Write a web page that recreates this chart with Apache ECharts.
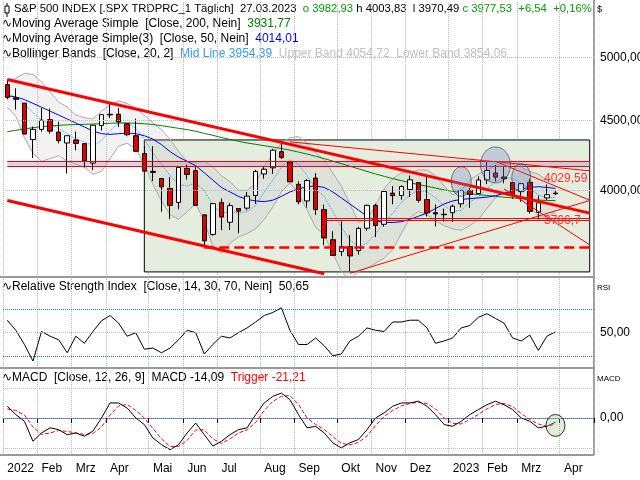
<!DOCTYPE html>
<html><head><meta charset="utf-8">
<script src="https://cdn.jsdelivr.net/npm/echarts@6/dist/echarts.min.js"></script>
<style>html,body{margin:0;padding:0;background:#fff}#c{width:640px;height:480px}</style>
</head><body><div id="c"></div>
<script>
const weeks = ['2022-01-03','2022-01-10','2022-01-18','2022-01-24','2022-01-31','2022-02-07','2022-02-14','2022-02-22','2022-02-28','2022-03-07','2022-03-14','2022-03-21','2022-03-28','2022-04-04','2022-04-11','2022-04-18','2022-04-25','2022-05-02','2022-05-09','2022-05-16','2022-05-23','2022-05-31','2022-06-06','2022-06-13','2022-06-21','2022-06-27','2022-07-05','2022-07-11','2022-07-18','2022-07-25','2022-08-01','2022-08-08','2022-08-15','2022-08-22','2022-08-29','2022-09-06','2022-09-12','2022-09-19','2022-09-26','2022-10-03','2022-10-10','2022-10-17','2022-10-24','2022-10-31','2022-11-07','2022-11-14','2022-11-21','2022-11-28','2022-12-05','2022-12-12','2022-12-19','2022-12-27','2023-01-03','2023-01-09','2023-01-17','2023-01-23','2023-01-30','2023-02-06','2023-02-13','2023-02-21','2023-02-27','2023-03-06','2023-03-13','2023-03-20','2023-03-27','2023-04-03','2023-04-10','2023-04-17','2023-04-24'];
const tickLabels = {0:'2022',4:'Feb',8:'Mrz',12:'Apr',17:'Mai',21:'Jun',25:'Jul',30:'Aug',34:'Sep',39:'Okt',43:'Nov',47:'Dez',52:'2023',56:'Feb',60:'Mrz',65:'Apr'};
const opens  = [4778,4674,4632,4357,4432,4505,4412,4332,4354,4327,4188,4462,4541,4547,4474,4385,4255,4130,4081,4013,3920,4151,4135,3839,3715,3920,3792,3880,3883,3965,4112,4155,4269,4195,4041,3930,4084,3873,3682,3610,3640,3615,3754,3901,3779,3982,3966,4006,4053,3939,3853,3843,3853,3911,3999,3979,4071,4119,4091,4053,3992,4055,3856,3950,3982];
const highs  = [4819,4749,4633,4453,4596,4590,4490,4385,4416,4331,4465,4546,4637,4593,4472,4513,4308,4308,4082,4090,4159,4177,4169,3838,3913,3946,3918,3880,3990,4140,4167,4290,4325,4204,4062,4076,4119,3906,3736,3806,3712,3762,3905,3912,4002,4029,4034,4101,4052,4101,3907,3879,3906,4004,4016,4095,4195,4176,4164,4053,4048,4079,3965,4040,4004];
const lows   = [4662,4582,4395,4223,4415,4401,4329,4115,4279,4157,4138,4424,4517,4450,4381,4267,4130,4063,3859,3811,3876,4074,3901,3637,3705,3741,3743,3722,3868,3911,4079,4113,4218,4057,3907,3886,3838,3647,3584,3583,3492,3591,3738,3698,3764,3908,3938,3957,3919,3828,3765,3796,3794,3887,3885,3975,4043,4061,4048,3944,3925,3847,3809,3936,3970];
const closes = [4677,4662,4398,4432,4501,4419,4349,4385,4329,4204,4463,4543,4546,4488,4393,4272,4132,4123,4024,3901,4158,4109,3901,3675,3912,3825,3899,3863,3962,4130,4145,4280,4228,4058,3924,4067,3873,3693,3586,3640,3583,3753,3901,3771,3993,3965,4026,4072,3934,3852,3845,3840,3895,3999,3973,4071,4136,4090,4079,3970,4046,3862,3917,3971,3978];
const ma200 = [4415,4425,4435,4445,4452,4458,4462,4466,4468,4470,4472,4475,4478,4480,4480,4478,4474,4468,4460,4450,4440,4430,4418,4402,4388,4372,4358,4344,4332,4322,4312,4302,4292,4280,4266,4252,4236,4220,4202,4184,4166,4148,4130,4112,4096,4080,4066,4052,4040,4028,4016,4004,3994,3986,3978,3972,3966,3960,3955,3950,3945,3940,3936,3933,3932];
const ma50 = [4690,4680,4660,4630,4600,4570,4540,4510,4480,4450,4420,4400,4395,4400,4405,4400,4385,4360,4320,4270,4230,4200,4170,4120,4070,4020,3990,3960,3940,3930,3925,3935,3960,3990,4010,4025,4030,4020,3990,3950,3910,3870,3830,3800,3790,3790,3795,3810,3830,3850,3880,3910,3930,3940,3945,3950,3955,3965,3980,3995,4010,4020,4025,4020,4014];
const bbMid = [4700,4680,4620,4560,4500,4470,4440,4400,4360,4340,4310,4350,4420,4480,4480,4440,4360,4260,4180,4100,4040,4030,4050,4000,3900,3850,3860,3850,3860,3900,3990,4070,4160,4210,4180,4100,4010,3960,3860,3760,3680,3640,3660,3720,3790,3850,3920,3970,4000,3990,3950,3900,3860,3870,3920,3960,4010,4060,4090,4080,4050,4010,3970,3950,3954];
const bbUpper = [4800,4830,4870,4860,4800,4720,4640,4600,4540,4520,4510,4570,4620,4650,4630,4590,4540,4480,4430,4360,4270,4200,4190,4200,4160,4100,4060,4000,4000,4050,4170,4250,4330,4370,4380,4330,4260,4210,4120,4030,3910,3790,3810,3900,4010,4080,4120,4120,4140,4140,4100,4030,3970,4000,4070,4110,4140,4170,4190,4180,4160,4130,4110,4070,4055];
const bbLower = [4600,4530,4370,4260,4200,4220,4240,4200,4180,4160,4110,4130,4220,4310,4330,4290,4180,4040,3930,3840,3810,3860,3910,3800,3640,3600,3660,3700,3720,3750,3810,3890,3990,4050,3980,3870,3760,3710,3600,3490,3450,3490,3510,3540,3570,3620,3720,3820,3860,3840,3800,3770,3750,3740,3770,3810,3880,3950,3990,3980,3940,3890,3830,3830,3854];
const rsi = [60.5,52,40,26,51,47,44,33,47,41,51,60,64.5,58,47,50,36,37,33,37,44,52,50,32,40,47,45.5,50,54,59,64.5,67,71,52,40,40,45.5,39,30.5,32,43,47,54,52,51,59,59,60.5,60.5,54,41,43,45.5,54,56,63,66,62,58,45.5,43,48,35,47,50.65];
const macd = [39,11,-11,-78,-50,-33,-39,-56,-50,-61,-44,0,50,50,33,0,-22,-67,-89,-106,-89,-50,-17,-56,-94,-78,-56,-39,-33,11,50,72,83,61,11,-33,-28,-50,-83,-100,-83,-72,-39,0,17,39,50,50,56,39,11,-22,-28,-11,11,28,44,56,44,28,0,-11,-33,-28,-14.09];
const trigger = [30,25,10,-30,-55,-50,-42,-45,-50,-55,-52,-30,10,40,45,25,0,-35,-70,-95,-95,-75,-40,-40,-70,-85,-70,-50,-40,-15,25,55,72,75,45,0,-22,-38,-62,-85,-90,-82,-60,-25,5,25,40,48,52,48,30,0,-18,-20,-5,12,30,45,48,38,15,-5,-20,-28,-21.21];

const ohlc = opens.map((o,i)=>[o,closes[i],lows[i],highs[i]]);
const bbDiff = bbUpper.map((u,i)=>u-bbLower[i]);
const isTick = (i)=> tickLabels[i] !== undefined;
const font = 'Liberation Sans';
const F = '12px '+font;
const F1 = '11.3px '+font;
const red = '#ff0000';
function seg(a,b,style){return [{coord:a,lineStyle:style},{coord:b}];}
function hl(v,label){return {yAxis:v,lineStyle:{color:'#bbb',type:'dotted',width:1},label:{show:true,position:'end',formatter:label,color:'#000',fontFamily:font,fontSize:12,distance:6}};}

const xBase = (gi,showLabel)=>({type:'category',gridIndex:gi,data:weeks,boundaryGap:true,
  axisLine:{show:gi===2,lineStyle:{color:'#999'}},
  axisTick:{show:gi===2,interval:(i)=>isTick(i),lineStyle:{color:'#000'},length:5},
  axisLabel:{show:showLabel,interval:(i)=>isTick(i),formatter:(v,i)=>tickLabels[i]||'',color:'#000',fontFamily:font,fontSize:12,align:'left',margin:10},
  splitLine:{show:true,interval:(i)=>isTick(i),lineStyle:{color:'#bbb',type:'dotted'}}});

const chart = echarts.init(document.getElementById('c'));
chart.setOption({
  animation:false,
  grid:[{left:3,right:46,top:2,height:273},{left:3,right:46,top:279,height:88},{left:3,right:46,top:370,height:83}],
  xAxis:[xBase(0,false),xBase(1,false),xBase(2,true)],
  yAxis:[
    {type:'log',gridIndex:0,min:3470,max:5490,show:true,axisLine:{show:false},axisLabel:{show:false},axisTick:{show:false},splitLine:{show:false}},
    {type:'value',gridIndex:1,min:21,max:95.3,axisLine:{show:false},axisLabel:{show:false},axisTick:{show:false},splitLine:{show:false}},
    {type:'value',gridIndex:2,min:-117,max:160,axisLine:{show:false},axisLabel:{show:false},axisTick:{show:false},splitLine:{show:false}}
  ],
  series:[
    {type:'line',xAxisIndex:0,yAxisIndex:0,data:[],z:0,silent:true,
     markArea:{silent:true,data:[
       [{coord:[16,4354],itemStyle:{color:'#e5eddf',borderColor:'#000',borderWidth:1}},{coord:[68,3488]}],
       [{coord:[0,4198],itemStyle:{color:'rgba(170,160,215,0.45)'}},{coord:[68,4163]}]
     ]}},
    {type:'line',name:'bbl',xAxisIndex:0,yAxisIndex:0,data:bbLower,stack:'bb',symbol:'none',z:1,lineStyle:{color:'#aaa',width:1},silent:true},
    {type:'line',name:'bbu',xAxisIndex:0,yAxisIndex:0,data:bbDiff,stack:'bb',symbol:'none',z:1,lineStyle:{color:'#aaa',width:1},areaStyle:{color:'rgba(170,170,170,0.22)'},silent:true},
    {type:'line',xAxisIndex:0,yAxisIndex:0,data:bbMid,symbol:'none',z:2,lineStyle:{color:'#3399ff',width:1,type:'dotted'}},
    {type:'line',xAxisIndex:0,yAxisIndex:0,data:ma200,symbol:'none',z:2,lineStyle:{color:'#008000',width:1}},
    {type:'line',xAxisIndex:0,yAxisIndex:0,data:ma50,symbol:'none',z:2,lineStyle:{color:'#0000ff',width:1}},
    {type:'candlestick',xAxisIndex:0,yAxisIndex:0,data:ohlc,z:3,barWidth:5,
     itemStyle:{color:'#ffffff',color0:'#e00000',borderColor:'#000',borderColor0:'#000',borderWidth:1},
     markLine:{silent:true,symbol:['none','none'],label:{show:false},data:[
       hl(5000,'5000,00'),hl(4500,'4500,00'),hl(4000,'4000,00'),
       seg([0,4820],[68,3850],{color:red,width:3,type:'solid'}),
       seg([0,3933],[37,3477],{color:red,width:3,type:'solid'}),
       seg([33,4340],[68,4134],{color:red,width:1,type:'solid'}),
       seg([40,3480],[68,3933],{color:red,width:1,type:'solid'}),
       seg([57,4200],[68,3935],{color:red,width:1,type:'solid'}),
       seg([58,4010],[68,3650],{color:red,width:1,type:'solid'}),
       seg([0,4198],[68,4198],{color:red,width:1,type:'solid'}),
       seg([0,4163],[68,4163],{color:red,width:1,type:'solid'}),
       seg([37,3820],[68,3820],{color:red,width:1,type:'solid'}),
       seg([37,3806],[68,3806],{color:red,width:1,type:'solid'}),
       seg([23,3637],[68,3637],{color:red,width:2.5,type:'dashed'})
     ]},
     markPoint:{silent:true,label:{show:false},data:[
       {coord:[53,4060],symbol:'circle',symbolSize:[20,30],itemStyle:{color:'rgba(110,130,200,0.3)',borderColor:'#333',borderWidth:0.6}},
       {coord:[57,4175],symbol:'circle',symbolSize:[30,36],itemStyle:{color:'rgba(110,130,200,0.3)',borderColor:'#333',borderWidth:0.6}},
       {coord:[60,4086],symbol:'circle',symbolSize:[19,28],itemStyle:{color:'rgba(110,130,200,0.3)',borderColor:'#333',borderWidth:0.6}}
     ]}},
    {type:'line',xAxisIndex:1,yAxisIndex:1,data:rsi,symbol:'none',lineStyle:{color:'#000',width:1},
     markLine:{silent:true,symbol:['none','none'],label:{show:false},data:[
       {yAxis:70,lineStyle:{color:'#3377dd',type:'dotted',width:1}},
       {yAxis:30,lineStyle:{color:'#3377dd',type:'dotted',width:1}},
       hl(50,'50,00')
     ]}},
    {type:'line',xAxisIndex:2,yAxisIndex:2,data:macd,symbol:'none',lineStyle:{color:'#000',width:1},z:3,
     markLine:{silent:true,symbol:['none','none'],label:{show:false},data:[
       {yAxis:0,lineStyle:{color:'#3377dd',type:'dotted',width:1},label:{show:true,position:'end',formatter:'0,00',color:'#000',fontFamily:font,fontSize:12,distance:6}},
       {yAxis:-100,lineStyle:{color:'#bbb',type:'dotted',width:1}},
       {yAxis:100,lineStyle:{color:'#bbb',type:'dotted',width:1}}
     ]},
     markPoint:{silent:true,label:{show:false},data:[
       {coord:[64,-25],symbol:'circle',symbolSize:[19,22],itemStyle:{color:'rgba(160,200,150,0.35)',borderColor:'#000',borderWidth:0.8}}
     ]}},
    {type:'line',xAxisIndex:2,yAxisIndex:2,data:trigger,symbol:'none',lineStyle:{color:'#ff0000',width:1,type:'dashed'},z:2}
  ],
  graphic:[
    {type:'line',shape:{x1:594,y1:0,x2:594,y2:455},style:{stroke:'#999',lineWidth:2}},
    {type:'line',shape:{x1:0,y1:277,x2:594,y2:277},style:{stroke:'#999',lineWidth:2}},
    {type:'line',shape:{x1:0,y1:368,x2:594,y2:368},style:{stroke:'#999',lineWidth:2}},
    {type:'line',shape:{x1:0,y1:455,x2:594,y2:455},style:{stroke:'#999',lineWidth:2}},
    {type:'line',shape:{x1:7,y1:3,x2:7,y2:17},style:{stroke:'#000',lineWidth:1}},
    {type:'rect',shape:{x:5,y:6,width:4,height:7},style:{fill:'#fff',stroke:'#000',lineWidth:1}},
    {type:'text',left:597,top:5,style:{text:'$',font:'9px '+font,fill:'#000'}},
    {type:'text',left:597,top:284,style:{text:'RSI',font:'8px '+font,fill:'#000'}},
    {type:'text',left:597,top:375,style:{text:'MACD',font:'8px '+font,fill:'#000'}},
    {type:'text',left:14,top:3,style:{text:'{k|S&P 500 INDEX [.SPX TRDPRC_1 Täglich]  27.03.2023  }{g|o 3982,93 }{k|h 4003,83  l 3970,49 }{g|c 3977,53  +6,54  +0,16%}',font:F1,rich:{k:{fill:'#000',font:F1},g:{fill:'#00a000',font:F1}}}},
    {type:'text',left:2,top:18,style:{text:'{k|∿Moving Average Simple  [Close, 200, Nein]  }{g|3931,77}',rich:{k:{fill:'#000',font:F},g:{fill:'#008000',font:F}}}},
    {type:'text',left:2,top:33,style:{text:'{k|∿Moving Average Simple(3)  [Close, 50, Nein]  }{b|4014,01}',rich:{k:{fill:'#000',font:F},b:{fill:'#0000ff',font:F}}}},
    {type:'text',left:2,top:48,style:{text:'{k|∿Bollinger Bands  [Close, 20, 2]  }{b|Mid Line 3954,39  }{g|Upper Band 4054,72  Lower Band 3854,06}',rich:{k:{fill:'#000',font:F},b:{fill:'#3399ff',font:F},g:{fill:'#c0c0c0',font:F}}}},
    {type:'text',left:2,top:281,style:{text:'∿Relative Strength Index  [Close, 14, 30, 70, Nein]  50,65',font:F,fill:'#000'}},
    {type:'text',left:2,top:372,style:{text:'{k|∿MACD  [Close, 12, 26, 9]  MACD -14,09  }{r|Trigger -21,21}',rich:{k:{fill:'#000',font:F},r:{fill:'#ff0000',font:F}}}},
    {type:'text',left:544,top:173,z:10,style:{text:'4029,59',font:F,fill:'#ff3030'}},
    {type:'text',left:544,top:215,z:10,style:{text:'3766,7',font:F,fill:'#ff3030'}}
  ]
});
</script></body></html>
